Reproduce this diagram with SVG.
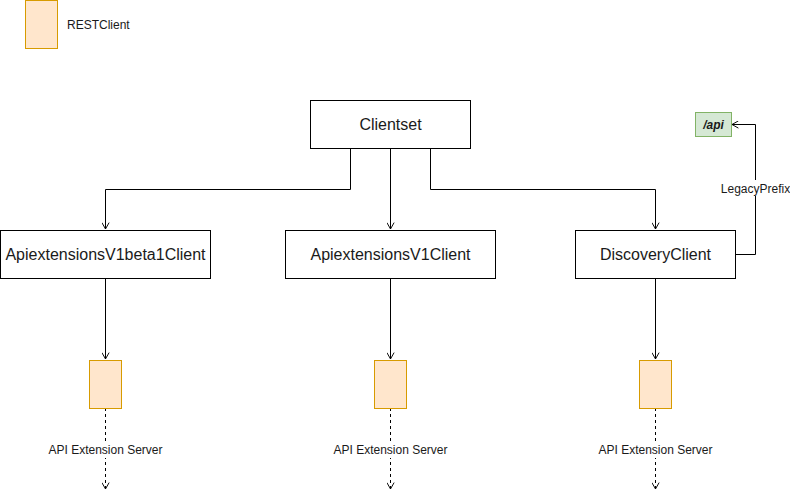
<svg xmlns="http://www.w3.org/2000/svg" width="790" height="499" viewBox="0 0 790 499">
<style>
.box{fill:#ffffff;stroke:#000000;stroke-width:1}
.rest{fill:#ffe6cc;stroke:#d79b00;stroke-width:1}
.api{fill:#d5e8d4;stroke:#82b366;stroke-width:1}
.edge{fill:none;stroke:#000000;stroke-width:1}
.dash{stroke-dasharray:3 3}
.big{font-family:"Liberation Sans",Arial,sans-serif;font-size:16px;fill:#1a1a1a;text-anchor:middle}
.small{font-family:"Liberation Sans",Arial,sans-serif;font-size:12px;fill:#1a1a1a}
.lbl{text-anchor:middle}
</style>
<defs>
<marker id="open" viewBox="0 0 10 10" refX="9" refY="5" markerWidth="8" markerHeight="8" markerUnits="userSpaceOnUse" orient="auto">
<path d="M1,0.5 L9,5 L1,9.5" fill="none" stroke="#000" stroke-width="1.2"/>
</marker>
</defs>
<rect fill="#ffffff" x="0" y="0" width="790" height="499"/>
<g id="legend">
<rect class="rest" x="25.5" y="0.5" width="32" height="48"/>
<text class="small" x="67" y="29">RESTClient</text>
</g>
<g id="connectors">
<path class="edge" d="M350.5,148 V189.5 H105.5 V229" marker-end="url(#open)"/>
<path class="edge" d="M390.5,148 V229" marker-end="url(#open)"/>
<path class="edge" d="M430.5,148 V189.5 H655.5 V229" marker-end="url(#open)"/>
<path class="edge" d="M735,254.5 H755.5 V124.5 H732" marker-end="url(#open)"/>
<path class="edge" d="M105.5,278 V359" marker-end="url(#open)"/>
<path class="edge" d="M390.5,278 V359" marker-end="url(#open)"/>
<path class="edge" d="M655.5,278 V359" marker-end="url(#open)"/>
<path class="edge dash" d="M105.5,408 V489" marker-end="url(#open)"/>
<path class="edge dash" d="M390.5,408 V489" marker-end="url(#open)"/>
<path class="edge dash" d="M655.5,408 V489" marker-end="url(#open)"/>
<rect fill="#ffffff" x="720" y="180" width="70" height="16"/>
<text class="small lbl" x="755.5" y="193">LegacyPrefix</text>
<rect fill="#ffffff" x="46" y="442" width="119" height="16"/>
<text class="small lbl" x="105.5" y="454">API Extension Server</text>
<rect fill="#ffffff" x="331" y="442" width="119" height="16"/>
<text class="small lbl" x="390.5" y="454">API Extension Server</text>
<rect fill="#ffffff" x="596" y="442" width="119" height="16"/>
<text class="small lbl" x="655.5" y="454">API Extension Server</text>
</g>
<g id="clientset">
<rect class="box" x="310.5" y="100.5" width="160" height="48"/>
<text class="big" x="390.5" y="130">Clientset</text>
</g>
<g id="v1beta1">
<rect class="box" x="0.5" y="230.5" width="210" height="48"/>
<text class="big" x="105.5" y="260">ApiextensionsV1beta1Client</text>
</g>
<g id="v1">
<rect class="box" x="285.5" y="230.5" width="210" height="48"/>
<text class="big" x="390.5" y="260">ApiextensionsV1Client</text>
</g>
<g id="discovery">
<rect class="box" x="575.5" y="230.5" width="160" height="48"/>
<text class="big" x="655.5" y="260">DiscoveryClient</text>
</g>
<g id="api">
<rect class="api" x="695.5" y="112.5" width="36" height="24"/>
<text class="small lbl" x="713.5" y="128.5" font-style="italic" font-weight="bold">/api</text>
</g>
<g id="rest1"><rect class="rest" x="89.5" y="360.5" width="32" height="48"/></g>
<g id="rest2"><rect class="rest" x="374.5" y="360.5" width="32" height="48"/></g>
<g id="rest3"><rect class="rest" x="639.5" y="360.5" width="32" height="48"/></g>
</svg>
